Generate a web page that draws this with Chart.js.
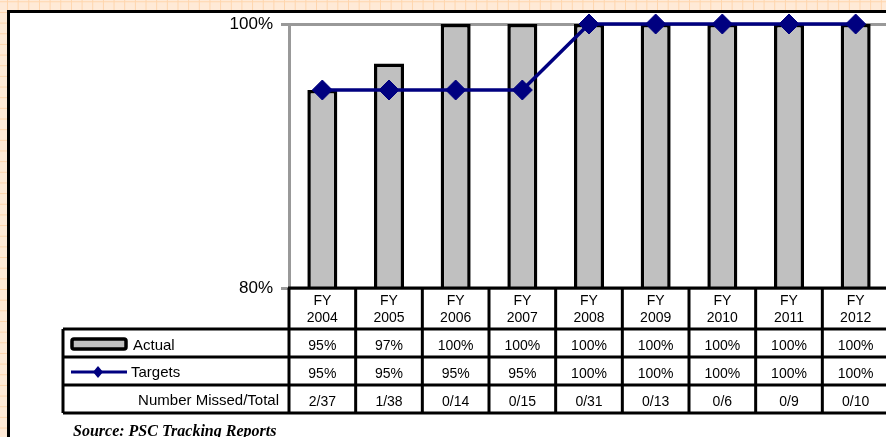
<!DOCTYPE html>
<html>
<head>
<meta charset="utf-8">
<script src="https://cdn.jsdelivr.net/npm/chart.js@4/dist/chart.umd.min.js"></script>
<style>
  html, body { margin: 0; padding: 0; width: 886px; height: 437px; overflow: hidden; }
  body {
    position: relative;
    background-color: #FFEAD7;
    background-image:
      linear-gradient(to right, #FFD5AC 1px, transparent 1px),
      linear-gradient(to bottom, #FFD5AC 1px, transparent 1px);
    background-size: 10.67px 10.67px;
    background-position: 7px 1.3px;
  }
  #panel {
    position: absolute; left: 7px; top: 10px; width: 920px; height: 450px;
    background: #fff; border-left: 3px solid #000; border-top: 3px solid #000;
  }
  #chart { position: absolute; left: 0; top: 0; }
  #source {
    position: absolute; left: 73px; top: 422px; white-space: nowrap;
    font: bold italic 16px "Liberation Serif", "Times New Roman", serif; color: #000;
  }
</style>
</head>
<body>
<div id="panel"></div>
<canvas id="chart" width="900" height="437"></canvas>
<div id="source">Source: PSC Tracking Reports</div>
<script>
// Fiscal years shown along the bottom
const categories = ['2004', '2005', '2006', '2007', '2008', '2009', '2010', '2011', '2012'];
// Share of cases completed on time (percent)
const actual = [95, 97, 100, 100, 100, 100, 100, 100, 100];
// Annual targets (percent)
const targets = [95, 95, 95, 95, 100, 100, 100, 100, 100];
// Missed / total cases per year
const missedTotal = ['2/37', '1/38', '0/14', '0/15', '0/31', '0/13', '0/6', '0/9', '0/10'];
// Y axis range and tick step
const yMin = 80, yMax = 100, yStep = 20;

const FONT = '"Liberation Sans", Arial, sans-serif';
const NAVY = '#000080';
const BAR_GRAY = '#C0C0C0';

// Draws the data table beneath the plot, aligned to the category scale
const dataTable = {
  id: 'dataTable',
  afterDraw(chart) {
    const ctx = chart.ctx;
    const xs = chart.scales.x;
    const area = chart.chartArea;
    const n = categories.length;
    const colW = (area.right - area.left) / n;
    const top = area.bottom;
    const headerBottom = top + 41;
    const rowH = 28;
    const rowTops = [headerBottom, headerBottom + rowH, headerBottom + 2 * rowH];
    const tableBottom = headerBottom + 3 * rowH;
    const labelLeft = 63;
    const rightEdge = chart.width + 10;

    ctx.save();
    ctx.strokeStyle = '#000';
    ctx.lineWidth = 3;

    // horizontal rules
    ctx.beginPath();
    ctx.moveTo(area.left - 1, top); ctx.lineTo(rightEdge, top);
    [headerBottom, rowTops[1], rowTops[2], tableBottom].forEach(y => {
      ctx.moveTo(labelLeft, y); ctx.lineTo(rightEdge, y);
    });
    // vertical rules
    ctx.moveTo(labelLeft, headerBottom); ctx.lineTo(labelLeft, tableBottom);
    for (let i = 0; i <= n; i++) {
      const cx = (i < n ? xs.getPixelForValue(i) - colW / 2 : xs.getPixelForValue(n - 1) + colW / 2);
      ctx.moveTo(cx, top); ctx.lineTo(cx, tableBottom);
    }
    ctx.stroke();

    // header cells
    ctx.fillStyle = '#000';
    ctx.textAlign = 'center';
    ctx.textBaseline = 'middle';
    ctx.font = '14px ' + FONT;
    categories.forEach((c, i) => {
      const cx = xs.getPixelForValue(i);
      ctx.fillText('FY', cx, top + 13);
      ctx.fillText(c, cx, top + 30);
    });

    // body cells
    const rowsText = [
      actual.map(v => v + '%'),
      targets.map(v => v + '%'),
      missedTotal
    ];
    rowsText.forEach((vals, r) => {
      vals.forEach((t, i) => {
        ctx.fillText(t, xs.getPixelForValue(i), rowTops[r] + 17);
      });
    });

    // row labels with legend keys
    ctx.font = '15px ' + FONT;
    ctx.textAlign = 'left';
    ctx.fillText('Actual', 133, rowTops[0] + 17);
    ctx.fillText('Targets', 131, rowTops[1] + 16);
    ctx.textAlign = 'right';
    ctx.fillText('Number Missed/Total', 279, rowTops[2] + 16);

    // bar key
    ctx.beginPath();
    ctx.roundRect(72, rowTops[0] + 10, 54, 10, 2);
    ctx.fillStyle = BAR_GRAY;
    ctx.fill();
    ctx.lineWidth = 3.5;
    ctx.strokeStyle = '#000';
    ctx.stroke();

    // line key
    const ly = rowTops[1] + 15;
    ctx.beginPath();
    ctx.moveTo(71, ly); ctx.lineTo(127, ly);
    ctx.strokeStyle = NAVY;
    ctx.lineWidth = 3;
    ctx.stroke();
    ctx.beginPath();
    ctx.moveTo(98, ly - 6); ctx.lineTo(103, ly); ctx.lineTo(98, ly + 6); ctx.lineTo(93, ly);
    ctx.closePath();
    ctx.fillStyle = NAVY;
    ctx.fill();

    ctx.restore();
  }
};

new Chart(document.getElementById('chart'), {
  data: {
    labels: categories.map(c => 'FY ' + c),
    datasets: [
      {
        type: 'line',
        label: 'Targets',
        data: targets,
        order: 0,
        borderColor: NAVY,
        borderWidth: 3.5,
        backgroundColor: NAVY,
        pointStyle: 'rectRot',
        pointRadius: 10,
        pointBorderWidth: 1,
        pointBackgroundColor: NAVY,
        pointBorderColor: NAVY,
        tension: 0,
        clip: false
      },
      {
        type: 'bar',
        label: 'Actual',
        data: actual,
        order: 1,
        backgroundColor: BAR_GRAY,
        borderColor: '#000',
        borderWidth: 3.5,
        borderSkipped: 'bottom',
        categoryPercentage: 1,
        barPercentage: 0.45
      }
    ]
  },
  options: {
    responsive: false,
    devicePixelRatio: 1,
    animation: false,
    events: [],
    layout: { padding: { left: 0, top: 24, right: 11, bottom: 149 } },
    plugins: { legend: { display: false }, tooltip: { enabled: false } },
    scales: {
      x: { type: 'category', display: false, offset: true },
      y: {
        min: yMin, max: yMax,
        afterFit(scale) { scale.width = 289; },
        ticks: {
          stepSize: yStep,
          color: '#000',
          padding: 8,
          font: { family: FONT, size: 17 },
          callback: v => v + '%'
        },
        grid: { color: '#999', lineWidth: 3, tickLength: 8, drawOnChartArea: true },
        border: { color: '#999', width: 3 }
      }
    }
  },
  plugins: [dataTable]
});
</script>
</body>
</html>
